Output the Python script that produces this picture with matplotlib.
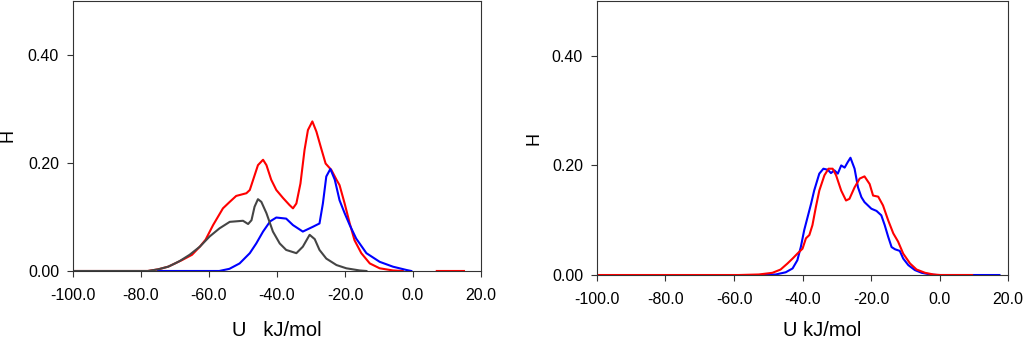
import numpy as np
import matplotlib.pyplot as plt

plt.rcParams['font.family'] = ['Liberation Sans', 'DejaVu Sans']

# ---- left panel data (U in kJ/mol, H) ----
red_l_u = [-100, -78, -75, -72, -70, -68, -65, -62.7, -61, -58.8, -55.9, -53.9, -52, -49, -48,
           -45.6, -44.1, -43.1, -41.7, -40.2, -38.2, -36.3, -35.3, -34.3, -33.1, -31.9,
           -30.9, -29.6, -28.4, -27, -25.7, -24, -22.5, -21.6, -20.1, -18.6, -17.2,
           -15.2, -12.7, -9.8, -5.9, -3, -2, 7, 15]
red_l_h = [0, 0, 0.003, 0.008, 0.014, 0.02, 0.03, 0.045, 0.058, 0.085, 0.116, 0.128, 0.139, 0.144,
           0.15, 0.196, 0.206, 0.196, 0.169, 0.15, 0.135, 0.122, 0.116, 0.125, 0.162,
           0.224, 0.261, 0.277, 0.258, 0.227, 0.199, 0.187, 0.169, 0.159, 0.125, 0.088,
           0.057, 0.033, 0.014, 0.005, 0.001, 0, np.nan, 0, 0]

blue_l_u = [-75, -57, -54, -51, -48, -46.1, -44.1, -42, -40.2, -37.3, -35.3, -32.4, -29.4,
            -27.5, -26.5, -25.5, -24.3, -23, -21.6, -20.1, -18.6, -16.7, -13.7, -9.8,
            -5.9, -2, -0.5]
blue_l_h = [0, 0, 0.004, 0.014, 0.033, 0.051, 0.073, 0.092, 0.099, 0.097, 0.085, 0.073, 0.082,
            0.088, 0.125, 0.175, 0.189, 0.169, 0.131, 0.107, 0.085, 0.06, 0.033, 0.017,
            0.008, 0.002, 0]

gray_l_u = [-100, -78, -75, -72, -70, -68.6, -65.7, -62.7, -59.8, -56.9, -53.9, -50, -48.5,
            -47.5, -46.6, -45.6, -44.6, -43.1, -41.2, -39.2, -37.3, -34.3, -32.4, -30.4,
            -28.9, -27.5, -25.5, -22.5, -19.6, -15.7, -13.7]
gray_l_h = [0, 0, 0.003, 0.008, 0.014, 0.0185, 0.03, 0.045, 0.064, 0.079, 0.091, 0.093, 0.087,
            0.094, 0.119, 0.133, 0.128, 0.107, 0.073, 0.051, 0.039, 0.033, 0.045, 0.067,
            0.059, 0.039, 0.023, 0.011, 0.005, 0.001, 0]

# ---- right panel data ----
blue_r_u = [-52.7, -47.8, -44.9, -42.9, -41.5, -40.5, -39.5, -38.5, -37.5, -36.6, -35.1,
            -33.9, -32.6, -31.7, -30.7, -29.7, -28.7, -27.7, -26.8, -26, -24.8, -23.8,
            -22.8, -21.9, -20.9, -19.9, -18.4, -17, -16, -15, -14, -13, -11.6, -10.6,
            -9.1, -7.2, -5.2, -2.7, -0.8, 17.5]
blue_r_h = [0, 0.001, 0.005, 0.012, 0.027, 0.051, 0.082, 0.106, 0.13, 0.154, 0.185,
            0.194, 0.192, 0.186, 0.191, 0.185, 0.2, 0.196, 0.206, 0.214, 0.194, 0.16,
            0.142, 0.133, 0.127, 0.121, 0.117, 0.109, 0.091, 0.07, 0.051, 0.047, 0.044, 0.03,
            0.018, 0.009, 0.004, 0.001, 0, 0]

red_r_u = [-100, -58.6, -52.7, -48.8, -46.4, -44.4, -42.9, -41.5, -40, -39, -38, -37.1,
           -36.1, -35.1, -33.6, -32.4, -31.2, -30.2, -28.7, -27.3, -26.3, -24.8, -23.3,
           -21.9, -20.4, -19.4, -17.9, -16.5, -15, -13.5, -12.1, -10.6, -8.6, -6.7,
           -4.2, -1.8, 0.2, 9.5]
red_r_h = [0, 0, 0.001, 0.004, 0.01, 0.021, 0.03, 0.039, 0.048, 0.067, 0.073, 0.091,
           0.124, 0.154, 0.182, 0.194, 0.194, 0.182, 0.154, 0.136, 0.139, 0.16, 0.176,
           0.18, 0.166, 0.145, 0.143, 0.127, 0.1, 0.076, 0.061, 0.039, 0.021, 0.01,
           0.004, 0.001, 0, 0]

xticks = [-100, -80, -60, -40, -20, 0, 20]
yticks = [0.0, 0.2, 0.4]

fig = plt.figure(figsize=(10.24, 3.41), dpi=100)
ax1 = fig.add_axes([0.0713, 0.2053, 0.3984, 0.7918])
ax2 = fig.add_axes([0.583, 0.1935, 0.4014, 0.8035])

ax1.plot(red_l_u, red_l_h, color='#ff0000', lw=1.5)
ax1.plot(blue_l_u, blue_l_h, color='#0000ff', lw=1.5)
ax1.plot(gray_l_u, gray_l_h, color='#454545', lw=1.5)

ax2.plot(blue_r_u, blue_r_h, color='#0000ff', lw=1.5)
ax2.plot(red_r_u, red_r_h, color='#ff0000', lw=1.5)

for ax in (ax1, ax2):
    ax.set_xlim(-100, 20)
    ax.set_ylim(0, 0.5)
    ax.set_xticks(xticks)
    ax.set_xticklabels([f'{v:.1f}' for v in xticks])
    ax.set_yticks(yticks)
    ax.set_yticklabels([f'{v:.2f}' for v in yticks])
    ax.tick_params(direction='out', length=4, width=0.8, labelsize=11.5,
                   color='#333333')
    ax.tick_params(axis='x', pad=8.5)
    ax.tick_params(axis='y', pad=6)
    for s in ax.spines.values():
        s.set_linewidth(0.8)
        s.set_color('#333333')
    ax.set_ylabel('H', fontsize=13)

ax1.yaxis.set_label_coords(-0.138, 0.5)
ax2.yaxis.set_label_coords(-0.133, 0.5)

fig.text(277 / 1024, 1 - 330 / 341, 'U   kJ/mol', fontsize=14.5, ha='center', va='center')
fig.text(822 / 1024, 1 - 330 / 341, 'U kJ/mol', fontsize=14.5, ha='center', va='center')

fig.savefig('out.png', dpi=100)
